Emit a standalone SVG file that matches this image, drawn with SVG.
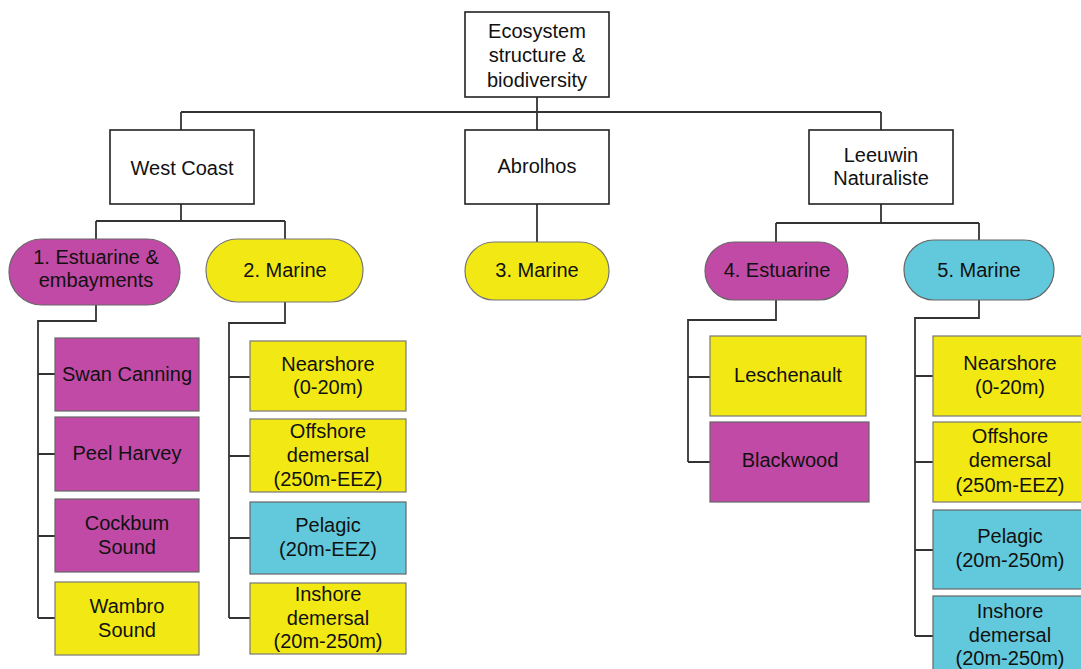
<svg xmlns="http://www.w3.org/2000/svg" width="1081" height="669" viewBox="0 0 1081 669">
<style>
text{font-family:"Liberation Sans",Arial,sans-serif;font-size:20px;fill:#111;text-anchor:middle}
.w{fill:#fff;stroke:#222;stroke-width:1.6}
.m{fill:#c14aa6;stroke:#666;stroke-width:1.2}
.y{fill:#f2e914;stroke:#777;stroke-width:1.2}
.c{fill:#62c9dd;stroke:#666;stroke-width:1.2}
.ln{fill:none;stroke:#333;stroke-width:1.8}
</style>
<rect width="1081" height="669" fill="#fff"/>
<g id="connectors" class="ln">
<path d="M537 97V112M181 112H881M181 112V130M537 112V130M881 112V130"/>
<path d="M181 204V221M96 221H285M96 221V240M285 221V239"/>
<path d="M537 204V242"/>
<path d="M881 204V223M776 223H979M776 223V242M979 223V240"/>
<path d="M96 305V321H38V618M38 374H55M38 454H55M38 536H55M38 618H55"/>
<path d="M285 302V323H229V618M229 377H250M229 456H250M229 538H250M229 618H250"/>
<path d="M776 300V320H688V462M688 377H710M688 462H710"/>
<path d="M979 300V318H915V636M915 376H933M915 462H933M915 550H933M915 636H933"/>
</g>
<g id="root"><rect class="w" x="465" y="12" width="144" height="85"/><text x="537" y="37.5">Ecosystem</text><text x="537" y="62">structure &amp;</text><text x="537" y="86.5">biodiversity</text></g>
<g id="westcoast"><rect class="w" x="110" y="130" width="144" height="74"/><text x="182" y="175">West Coast</text></g>
<g id="abrolhos"><rect class="w" x="465" y="130" width="144" height="74"/><text x="537" y="173">Abrolhos</text></g>
<g id="leeuwin"><rect class="w" x="809" y="130" width="144" height="74"/><text x="881" y="162">Leeuwin</text><text x="881" y="185">Naturaliste</text></g>
<g id="p1"><rect class="m" x="9" y="239" width="171" height="66" rx="33"/><text x="96" y="264">1. Estuarine &amp;</text><text x="96" y="287">embayments</text></g>
<g id="p2"><rect class="y" x="206" y="239" width="157" height="63" rx="31.5"/><text x="285" y="277">2. Marine</text></g>
<g id="p3"><rect class="y" x="465" y="242" width="144" height="58" rx="29"/><text x="537" y="277">3. Marine</text></g>
<g id="p4"><rect class="m" x="705" y="242" width="143" height="58" rx="29"/><text x="777" y="277">4. Estuarine</text></g>
<g id="p5"><rect class="c" x="904" y="240" width="150" height="60" rx="30"/><text x="979" y="277">5. Marine</text></g>
<g id="swan"><rect class="m" x="55" y="338" width="144" height="73"/><text x="127" y="381">Swan Canning</text></g>
<g id="peel"><rect class="m" x="55" y="417" width="144" height="74"/><text x="127" y="460">Peel Harvey</text></g>
<g id="cockburn"><rect class="m" x="55" y="499" width="144" height="73"/><text x="127" y="530">Cockbum</text><text x="127" y="554">Sound</text></g>
<g id="warnbro"><rect class="y" x="55" y="582" width="144" height="73"/><text x="127" y="613">Wambro</text><text x="127" y="637">Sound</text></g>
<g id="wc-near"><rect class="y" x="250" y="341" width="156" height="70"/><text x="328" y="371">Nearshore</text><text x="328" y="394">(0-20m)</text></g>
<g id="wc-off"><rect class="y" x="250" y="419" width="156" height="73"/><text x="328" y="438">Offshore</text><text x="328" y="462">demersal</text><text x="328" y="486">(250m-EEZ)</text></g>
<g id="wc-pel"><rect class="c" x="250" y="502" width="156" height="72"/><text x="328" y="532">Pelagic</text><text x="328" y="556">(20m-EEZ)</text></g>
<g id="wc-insh"><rect class="y" x="250" y="583" width="156" height="71"/><text x="328" y="601">Inshore</text><text x="328" y="625">demersal</text><text x="328" y="648">(20m-250m)</text></g>
<g id="leschenault"><rect class="y" x="710" y="336" width="156" height="80"/><text x="788" y="382">Leschenault</text></g>
<g id="blackwood"><rect class="m" x="710" y="422" width="159" height="80"/><text x="790" y="467">Blackwood</text></g>
<g id="ln-near"><rect class="y" x="933" y="336" width="155" height="80"/><text x="1010" y="370">Nearshore</text><text x="1010" y="394">(0-20m)</text></g>
<g id="ln-off"><rect class="y" x="933" y="422" width="155" height="80"/><text x="1010" y="443">Offshore</text><text x="1010" y="467">demersal</text><text x="1010" y="492">(250m-EEZ)</text></g>
<g id="ln-pel"><rect class="c" x="933" y="510" width="155" height="79"/><text x="1010" y="543">Pelagic</text><text x="1010" y="567">(20m-250m)</text></g>
<g id="ln-insh"><rect class="c" x="933" y="596" width="155" height="80"/><text x="1010" y="618">Inshore</text><text x="1010" y="642">demersal</text><text x="1010" y="665">(20m-250m)</text></g>
</svg>
